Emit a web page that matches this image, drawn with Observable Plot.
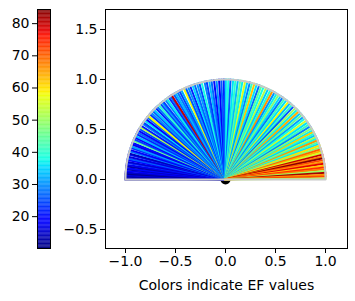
<!DOCTYPE html>
<html>
<head>
<meta charset="utf-8">
<script src="https://cdn.jsdelivr.net/npm/d3@7"></script>
<script src="https://cdn.jsdelivr.net/npm/@observablehq/plot@0.6"></script>
<style>
  html, body { margin: 0; padding: 0; background: #fff; }
  #wrap { position: relative; width: 355px; height: 301px; overflow: hidden; font-family: "DejaVu Sans", sans-serif; }
  #cbar { position: absolute; left: 0; top: 0; }
  #main { position: absolute; left: 55px; top: 0; }
  svg { font-family: "DejaVu Sans", sans-serif; }
</style>
</head>
<body>
<div id="wrap"><div id="cbar"></div><div id="main"></div></div>
<script>
// Angles (degrees) of each radial line and their EF values
const angles = [
  180, 179.3, 178.5, 177.6, 176.8, 176, 175.1, 174.2, 173.5, 172.4, 171.6, 170.5, 169.8, 168.7, 167.9, 166.8, 165.6, 164.9, 163.7, 162.8, 161.5, 160.6, 159.4, 158.5, 157.2, 156.3, 155.1, 154.2, 153, 151.9, 150.8,
  149.6, 148.4, 147.5, 146.1, 145.2, 143.9, 142.8, 141.5, 140.6, 139.2, 138.1, 136.7, 135.8, 134.3, 133.2, 132, 130.7, 129.5, 128.6, 127.1, 126, 124.6, 123.5, 122.6, 121.2, 120.1,
  118.8, 117.5, 116.3, 114.6, 113.4, 112, 110.7, 109.3, 108, 106.5, 105.2, 103.8, 102.1, 100.9, 99.4, 98.1, 96.6, 95.2, 93.7, 92.4, 91, 89.8,
  88.4, 87.1, 85.6, 84.3, 82.9, 81.5, 80.2, 78.7, 77.4, 75.9, 74.6, 73.2, 71.8, 70.3, 69, 67.6, 66.1, 64.8, 63.3, 62, 60.6,
  59.2, 57.9, 56.5, 55.1, 53.8, 52.4, 51, 49.7, 48.3, 47, 45.6, 44.2, 42.9, 41.5, 40.2, 38.8, 37.5, 36.1, 34.8, 33.4, 32.1, 30.7,
  29.5, 28.4, 27.3, 26.2, 25.1, 24.1, 23, 21.9, 20.8, 19.8, 18.7, 17.6, 16.5, 15.5, 14.4, 13.3, 12.3, 11.2, 10.1, 9.1, 8, 7, 5.9, 4.8, 3.8, 2.7, 1.7, 0.6
];
const efValues = [
  12, 14, 13, 16, 11, 15, 18, 14, 20, 13, 17, 22, 15, 19, 26, 16, 21, 14, 28, 18, 23, 31, 17, 20, 45, 24, 19, 33, 22, 27, 18,
  25, 52, 21, 29, 24, 36, 19, 27, 58, 23, 30, 26, 34, 22, 28, 40, 25, 31, 24, 29, 37, 23, 27, 80, 26, 33,
  28, 24, 32, 58, 26, 30, 22, 35, 27, 31, 25, 38, 29, 24, 33, 27, 20, 30, 18, 26, 22, 35,
  38, 26, 36, 40, 33, 45, 37, 56, 35, 29, 41, 62, 36, 27, 44, 38, 52, 34, 39, 66, 30,
  37, 48, 35, 28, 42, 36, 58, 33, 40, 26, 50, 37, 64, 34, 45, 31, 38, 55, 36, 42, 29, 48,
  37, 62, 40, 34, 52, 38, 66, 44, 36, 60, 48, 70, 64, 55, 80, 68, 84, 72, 66, 78, 62, 74, 68, 50, 82, 66, 72, 52
];
const cbarTicks = [20, 30, 40, 50, 60, 70, 80];
const xTicks = [-1.0, -0.5, 0.0, 0.5, 1.0];
const yTicks = [-0.5, 0.0, 0.5, 1.0, 1.5];
const xLabel = "Colors indicate EF values";

// matplotlib "jet" colormap
function jet(t) {
  t = Math.max(0, Math.min(1, t));
  const seg = (pts) => {
    for (let i = 1; i < pts.length; i++) {
      if (t <= pts[i][0]) {
        const [x0, y0] = pts[i - 1], [x1, y1] = pts[i];
        return y0 + (y1 - y0) * (t - x0) / (x1 - x0);
      }
    }
    return pts[pts.length - 1][1];
  };
  const r = seg([[0, 0], [0.35, 0], [0.66, 1], [0.89, 1], [1, 0.5]]);
  const g = seg([[0, 0], [0.125, 0], [0.375, 1], [0.64, 1], [0.91, 0], [1, 0]]);
  const b = seg([[0, 0.5], [0.11, 1], [0.34, 1], [0.65, 0], [1, 0]]);
  return `rgb(${Math.round(r * 255)},${Math.round(g * 255)},${Math.round(b * 255)})`;
}

const efDomain = [10.1, 84.4];
const colorScale = { type: "linear", domain: efDomain, interpolate: () => jet };

const rays = angles.map((a, i) => ({
  x: Math.cos(a * Math.PI / 180),
  y: Math.sin(a * Math.PI / 180),
  ef: efValues[i]
}));

const arcPts = d3.range(0, 181, 1).map(a => ({ x: Math.cos(a * Math.PI / 180), y: Math.sin(a * Math.PI / 180) }));
arcPts.push({ x: 1, y: 0 });

const fmt = d3.format(".1f");
const FS = 14;

const main = Plot.plot({
  width: 300,
  height: 301,
  marginLeft: 50,
  marginRight: 8,
  marginTop: 9,
  marginBottom: 53,
  style: { fontSize: FS + "px", fontFamily: "DejaVu Sans, sans-serif", color: "#000" },
  x: { domain: [-1.2, 1.22], label: null },
  y: { domain: [-0.69, 1.7], label: null },
  color: colorScale,
  marks: [
    Plot.dot([{ x: 0, y: 0 }], { x: "x", y: "y", r: 5, fill: "black", stroke: "none" }),
    Plot.link(rays, { x1: 0, y1: 0, x2: "x", y2: "y", stroke: "ef", strokeWidth: 2, strokeLinecap: "square" }),
    Plot.line(arcPts, { x: "x", y: "y", stroke: "#c8c8c8", strokeWidth: 2 }),
    Plot.frame({ stroke: "black", strokeWidth: 1 }),
    Plot.axisX({ ticks: xTicks, tickFormat: fmt, tickSize: 5, fontSize: FS, label: null, tickPadding: 3 }),
    Plot.axisY({ ticks: yTicks, tickFormat: fmt, tickSize: 5, fontSize: FS, label: null, tickPadding: 3 }),
    Plot.text([xLabel], { frameAnchor: "bottom", dy: 41, text: d => d, fontSize: FS })
  ]
});
document.getElementById("main").appendChild(main);

const step = 0.25;
const slices = d3.range(efDomain[0], efDomain[1], step);
const cbar = Plot.plot({
  width: 55,
  height: 301,
  marginLeft: 37,
  marginRight: 5,
  marginTop: 9,
  marginBottom: 53,
  style: { fontSize: FS + "px", fontFamily: "DejaVu Sans, sans-serif", color: "#000" },
  x: { domain: [0, 1], axis: null },
  y: { domain: efDomain, label: null },
  color: colorScale,
  marks: [
    Plot.rect(slices, { x1: 0, x2: 1, y1: d => d, y2: d => Math.min(d + step + 0.05, efDomain[1]), fill: d => d + step / 2 }),
    Plot.frame({ stroke: "black", strokeWidth: 1 }),
    Plot.axisY({ ticks: cbarTicks, tickSize: 5, fontSize: FS, label: null, tickPadding: 3 })
  ]
});
document.getElementById("cbar").appendChild(cbar);
</script>
</body>
</html>
